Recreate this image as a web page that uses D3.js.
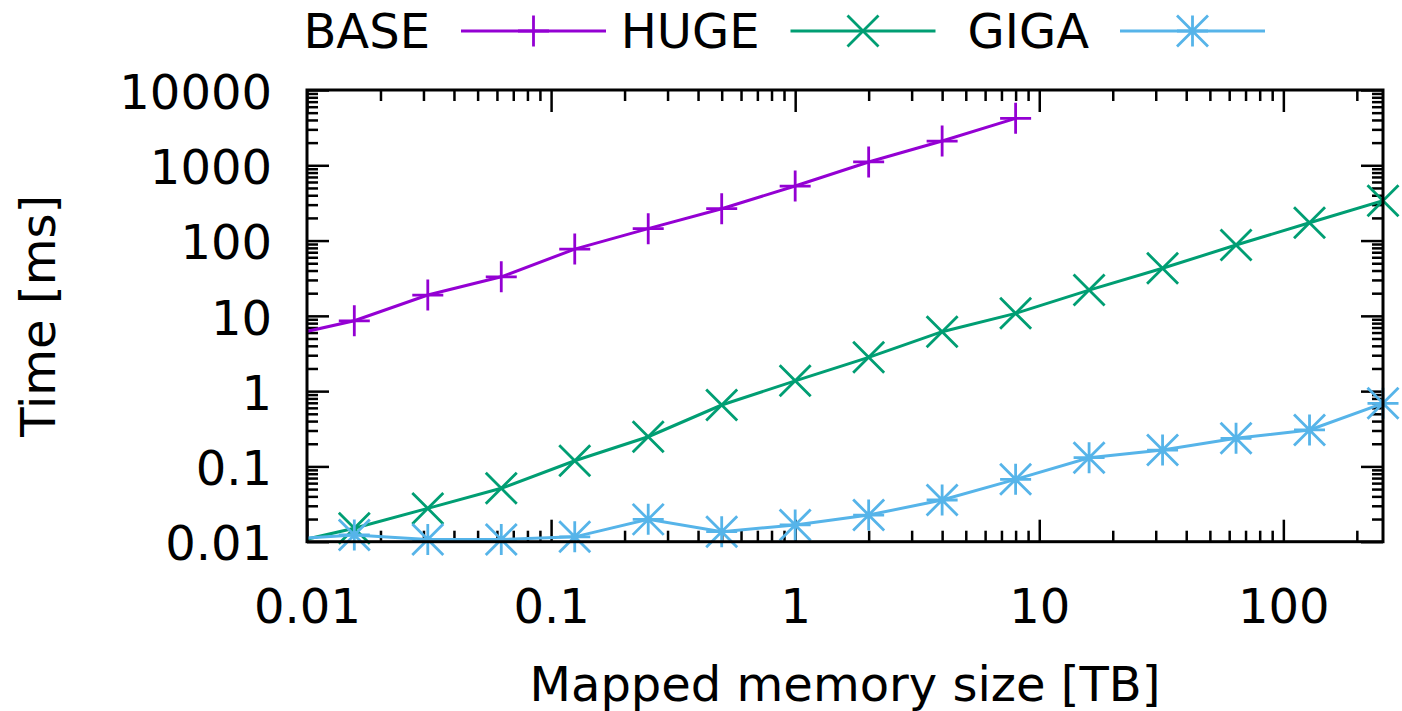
<!DOCTYPE html>
<html>
<head>
<meta charset="utf-8">
<script src="https://cdn.jsdelivr.net/npm/d3@7"></script>
<style>
  body { margin: 0; background: #fff; }
  text { font-family: "DejaVu Sans", sans-serif; fill: #000; }
</style>
</head>
<body>
<svg id="chart"></svg>
<script>
// memory sizes in TB (powers of two, 1/128 .. 256)
let sizes = [0.0078125, 0.015625, 0.03125, 0.0625, 0.125, 0.25, 0.5, 1, 2, 4, 8, 16, 32, 64, 128, 256];
// times in ms
let baseTimes = [5.2, 8.6, 18.9, 33, 77, 144, 265, 530, 1107, 2100, 4200];
let hugeTimes = [0.009, 0.0151, 0.0277, 0.0512, 0.119, 0.248, 0.654, 1.37, 2.81, 6.16, 10.8, 22.0, 42.8, 87.3, 172.6, 339];
let gigaTimes = [0.0106, 0.0123, 0.0107, 0.0107, 0.0116, 0.0198, 0.0136, 0.0167, 0.0226, 0.0358, 0.0673, 0.1306, 0.165, 0.236, 0.305, 0.689];

let seriesNames = ['BASE', 'HUGE', 'GIGA'];
let seriesColors = ['#9400d3', '#009e73', '#56b4e9'];
let seriesMarkers = ['plus', 'cross', 'star'];

let xTickValues = [0.01, 0.1, 1, 10, 100];
let xTickLabels = ['0.01', '0.1', '1', '10', '100'];
let yTickValues = [0.01, 0.1, 1, 10, 100, 1000, 10000];
let yTickLabels = ['0.01', '0.1', '1', '10', '100', '1000', '10000'];

let width = 1402, height = 711;
let plot = { left: 307, right: 1383, top: 90, bottom: 541.7 };
let fontSize = 48;

let svg = d3.select('#chart').attr('width', width).attr('height', height);

let x = d3.scaleLog().domain([0.01, 256]).range([plot.left, plot.right]);
let y = d3.scaleLog().domain([0.01, 10000]).range([plot.bottom, plot.top]);

let series = [baseTimes, hugeTimes, gigaTimes].map((vals, i) => ({
  name: seriesNames[i],
  color: seriesColors[i],
  marker: seriesMarkers[i],
  points: vals.map((v, j) => ({ x: sizes[j], y: v }))
}));

let s = 15.5;
let markerPath = {
  plus: `M${-s},0H${s}M0,${-s}V${s}`,
  cross: `M${-s},${-s}L${s},${s}M${-s},${s}L${s},${-s}`,
  star: `M${-s},0H${s}M0,${-s}V${s}M${-s},${-s}L${s},${s}M${-s},${s}L${s},${-s}`
};

// ticks: minor and major, mirrored on all four sides
let xMinor = x.ticks().filter(d => !xTickValues.includes(+d.toPrecision(6)));
let yMinor = y.ticks().filter(d => !yTickValues.includes(+d.toPrecision(6)));

let addAxis = (axis, tx, ty) => {
  let g = svg.append('g').attr('transform', `translate(${tx},${ty})`).call(axis);
  g.select('.domain').remove();
  g.selectAll('line').attr('stroke', '#000').attr('stroke-width', 2.5);
  g.selectAll('text').style('font-size', `${fontSize}px`).attr('fill', '#000');
  return g;
};

addAxis(d3.axisBottom(x).tickValues(xMinor).tickSize(-11).tickFormat(''), 0, plot.bottom);
addAxis(d3.axisTop(x).tickValues(xMinor).tickSize(-11).tickFormat(''), 0, plot.top);
addAxis(d3.axisTop(x).tickValues(xTickValues).tickSize(-22).tickFormat(''), 0, plot.top);
addAxis(d3.axisBottom(x).tickValues(xTickValues).tickSize(-22).tickPadding(47)
  .tickFormat((d, i) => xTickLabels[i]), 0, plot.bottom);

addAxis(d3.axisLeft(y).tickValues(yMinor).tickSize(-11).tickFormat(''), plot.left, 0);
addAxis(d3.axisRight(y).tickValues(yMinor).tickSize(-11).tickFormat(''), plot.right, 0);
addAxis(d3.axisRight(y).tickValues(yTickValues).tickSize(-22).tickFormat(''), plot.right, 0);
addAxis(d3.axisLeft(y).tickValues(yTickValues).tickSize(-22).tickPadding(35)
  .tickFormat((d, i) => yTickLabels[i]), plot.left, 0)
  .selectAll('text').attr('dy', '0.38em');

// clip lines to the plot area
svg.append('clipPath').attr('id', 'clip')
  .append('rect')
  .attr('x', plot.left).attr('y', plot.top)
  .attr('width', plot.right - plot.left).attr('height', plot.bottom - plot.top);

let line = d3.line().x(d => x(d.x)).y(d => y(d.y));

let groups = svg.selectAll('.series')
  .data(series)
  .enter()
  .append('g')
  .attr('class', 'series');

groups.append('path')
  .attr('clip-path', 'url(#clip)')
  .attr('fill', 'none')
  .attr('stroke', d => d.color)
  .attr('stroke-width', 3)
  .attr('d', d => line(d.points));

groups.each(function(d) {
  d3.select(this).selectAll('.pt')
    .data(d.points.filter(p => p.x >= 0.01 && p.y >= 0.01))
    .enter()
    .append('path')
    .attr('class', 'pt')
    .attr('transform', p => `translate(${x(p.x)},${y(p.y)})`)
    .attr('d', markerPath[d.marker])
    .attr('fill', 'none')
    .attr('stroke', d.color)
    .attr('stroke-width', 2.8);
});

// frame
svg.append('rect')
  .attr('x', plot.left).attr('y', plot.top)
  .attr('width', plot.right - plot.left).attr('height', plot.bottom - plot.top)
  .attr('fill', 'none')
  .attr('stroke', '#000')
  .attr('stroke-width', 3);

// axis titles
svg.append('text')
  .attr('x', (plot.left + plot.right) / 2)
  .attr('y', 701)
  .attr('text-anchor', 'middle')
  .style('font-size', `${fontSize}px`)
  .text('Mapped memory size [TB]');

svg.append('text')
  .attr('transform', `translate(55, ${(plot.top + plot.bottom) / 2}) rotate(-90)`)
  .attr('text-anchor', 'middle')
  .style('font-size', `${fontSize}px`)
  .text('Time [ms]');

// legend across the top
let legendY = 31;
let legend = svg.selectAll('.legend')
  .data(series)
  .enter()
  .append('g')
  .attr('class', 'legend')
  .attr('transform', (d, i) => `translate(${430 + i * 329.5}, ${legendY})`);

legend.append('text')
  .attr('text-anchor', 'end')
  .attr('dy', '0.36em')
  .style('font-size', `${fontSize}px`)
  .text(d => d.name);

legend.append('line')
  .attr('x1', 31).attr('x2', 176)
  .attr('stroke', d => d.color)
  .attr('stroke-width', 3);

legend.append('path')
  .attr('transform', 'translate(103.5, 0)')
  .attr('d', d => markerPath[d.marker])
  .attr('fill', 'none')
  .attr('stroke', d => d.color)
  .attr('stroke-width', 2.8);
</script>
</body>
</html>
